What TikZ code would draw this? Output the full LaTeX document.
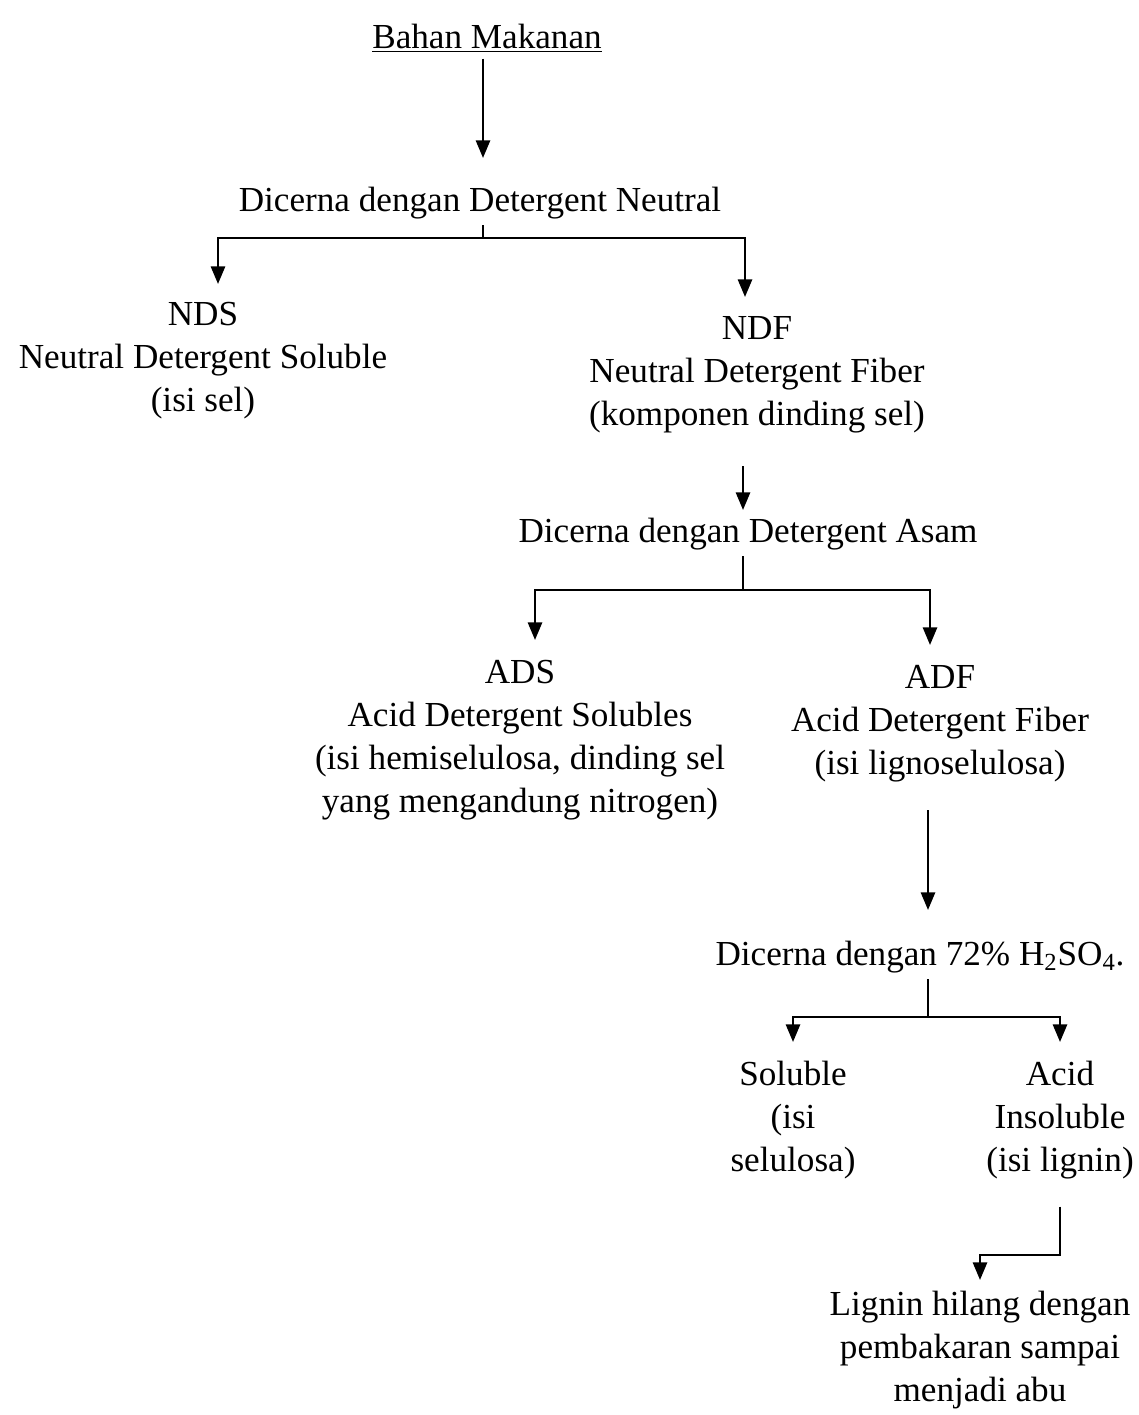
\documentclass[tikz,border=0pt]{standalone}
\usepackage{fontspec}
\setmainfont{Liberation Serif}
\usetikzlibrary{arrows.meta,positioning}

\begin{document}
\begin{tikzpicture}[>={Triangle[width=8pt,length=10pt]},line width=1.4pt,x=0.2mm,y=-0.2mm,font=\fontsize{20pt}{24.5pt}\selectfont]
\tikzset{txt/.style={align=center,inner sep=3pt}}
\useasboundingbox (0,0) rectangle (1139,1415);

% the text blocks
\node[txt] (bahan) at (487,38) {\underline{Bahan Makanan}};
\node[txt] (neutral) at (480,203) {Dicerna dengan Detergent Neutral};
\node[txt] (nds) at (203,361) {NDS\\Neutral Detergent Soluble\\(isi sel)};
\node[txt] (ndf) at (757,375) {NDF\\Neutral Detergent Fiber\\(komponen dinding sel)};
\node[txt] (asam) at (748,534) {Dicerna dengan Detergent Asam};
\node[txt] (ads) at (520,740) {ADS\\Acid Detergent Solubles\\(isi hemiselulosa, dinding sel\\yang mengandung nitrogen)};
\node[txt] (adf) at (940,724) {ADF\\Acid Detergent Fiber\\(isi lignoselulosa)};
\node[txt] (sulfat) at (920,957) {Dicerna dengan 72\% H\textsubscript{2}SO\textsubscript{4}.};
\node[txt] (sol) at (793,1120) {Soluble\\(isi\\selulosa)};
\node[txt] (insol) at (1060,1120) {Acid\\Insoluble\\(isi lignin)};
\node[txt] (abu) at (980,1350) {Lignin hilang dengan\\pembakaran sampai\\menjadi abu};

% split points and arrow tips
\coordinate (t1) at (483,158);
\coordinate (sp1) at (483,238);
\coordinate (t2) at (218,284);
\coordinate (t3) at (745,297);
\coordinate (t4) at (743,510);
\coordinate (sp2) at (743,590);
\coordinate (t5) at (535,640);
\coordinate (t6) at (930,645);
\coordinate (t7) at (928,910);
\coordinate (sp3) at (928,1017);
\coordinate (t8) at (793,1042);
\coordinate (t9) at (1060,1042);
\coordinate (bend) at (1060,1255);
\coordinate (t10) at (980,1280);

\draw[->] (bahan.south -| t1) -- (t1);
\draw (neutral.south -| sp1) -- (sp1);
\draw[->] (sp1) -| (t2);
\draw[->] (sp1) -| (t3);

\draw[->,shorten <=15pt] (ndf.south -| t4) -- (t4);
\draw (asam.south -| sp2) -- (sp2);
\draw[->] (sp2) -| (t5);
\draw[->] (sp2) -| (t6);

\draw[->,shorten <=12pt] (adf.south -| t7) -- (t7);
\draw (sulfat.south -| sp3) -- (sp3);
\draw[->] (sp3) -| (t8);
\draw[->] (sp3) -| (t9);

\draw[->,shorten <=12pt] (insol.south) -- (bend) -| (t10);
\end{tikzpicture}
\end{document}
